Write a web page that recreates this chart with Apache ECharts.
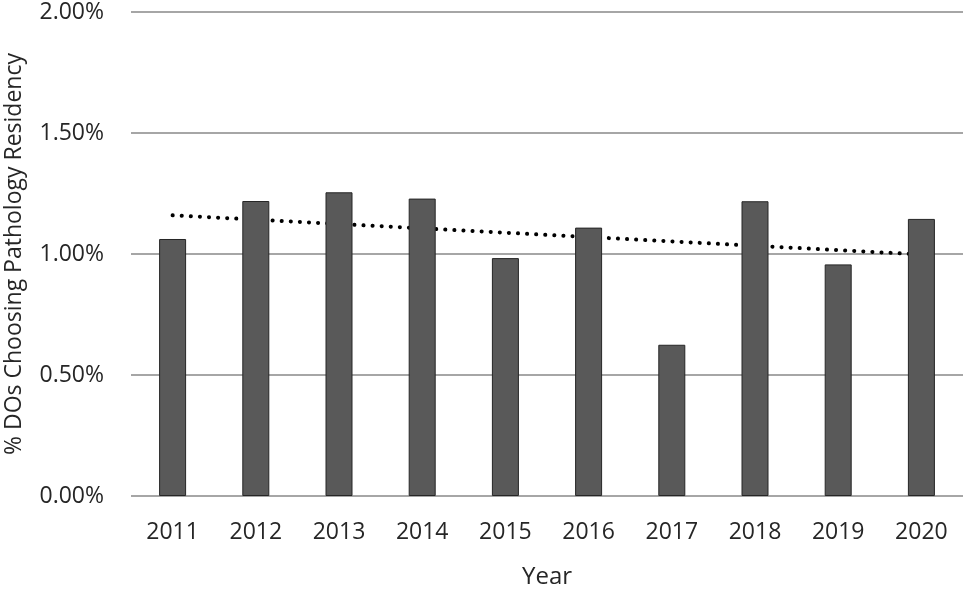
<!DOCTYPE html>
<html>
<head>
<meta charset="utf-8">
<script src="https://cdn.jsdelivr.net/npm/echarts@6/dist/echarts.min.js"></script>
<style>
html,body{margin:0;padding:0;background:#fff;}
#chart{width:971px;height:589px;}
</style>
</head>
<body>
<div id="chart"></div>
<script>
const years = ['2011','2012','2013','2014','2015','2016','2017','2018','2019','2020'];
const pctValues = [1.062, 1.219, 1.255, 1.229, 0.983, 1.109, 0.625, 1.218, 0.957, 1.145];
const trendValues = [1.160, null, null, null, null, null, null, null, null, 0.998];
const yTicks = [0, 0.5, 1.0, 1.5, 2.0];

const chart = echarts.init(document.getElementById('chart'));
const font = '"Open Sans", "Noto Sans", sans-serif';
chart.setOption({
  animation: false,
  grid: { left: 131, right: 8, top: 12, bottom: 93, outerBoundsMode: 'none', containLabel: false },
  xAxis: {
    type: 'category',
    data: years,
    name: 'Year',
    nameLocation: 'middle',
    nameGap: 69,
    nameTextStyle: { fontSize: 24, color: '#262626', fontFamily: font },
    axisLine: { show: false },
    axisTick: { show: false },
    axisLabel: { fontSize: 23, color: '#262626', fontFamily: font, margin: 25 }
  },
  yAxis: {
    type: 'value',
    min: yTicks[0],
    max: yTicks[yTicks.length - 1],
    interval: 0.5,
    name: '% DOs Choosing Pathology Residency',
    nameLocation: 'middle',
    nameGap: 105,
    nameTextStyle: { fontSize: 23, color: '#262626', fontFamily: font },
    axisLine: { show: false },
    axisTick: { show: false },
    axisLabel: {
      fontSize: 23, color: '#262626', fontFamily: font, margin: 27,
      formatter: v => v.toFixed(2) + '%'
    },
    splitLine: { lineStyle: { color: '#a6a6a6', width: 2 } }
  },
  series: [
    {
      type: 'line',
      data: trendValues,
      connectNulls: true,
      symbol: 'none',
      z: 1,
      lineStyle: { color: '#000', width: 4, type: [0.1, 9], cap: 'round' }
    },
    {
      type: 'bar',
      data: pctValues,
      barWidth: 27,
      z: 2,
      itemStyle: { color: '#595959', borderColor: '#262626', borderWidth: 1 }
    }
  ]
});
</script>
</body>
</html>
